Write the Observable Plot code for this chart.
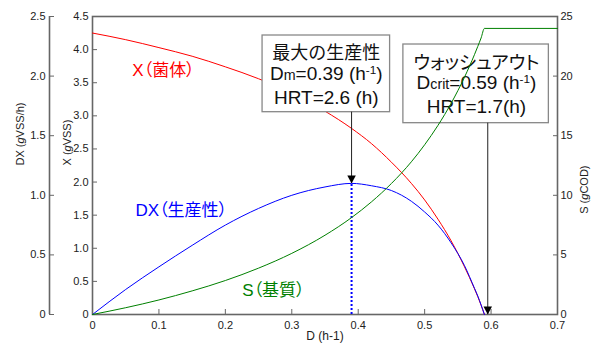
<!DOCTYPE html>
<html><head><meta charset="utf-8">
<script src="https://cdn.jsdelivr.net/npm/d3@7"></script>
<script src="https://cdn.jsdelivr.net/npm/@observablehq/plot@0.6"></script>
<style>body{margin:0;background:#fff} svg{display:block} .palt{font-feature-settings:"palt"}</style>
</head><body><div id="chart"></div>
<script>
// Dilution rate D (h-1) and read values
const D  = [0, 0.05, 0.1, 0.15, 0.2, 0.25, 0.3, 0.35, 0.39, 0.42, 0.45, 0.48, 0.5, 0.52, 0.54, 0.56, 0.575, 0.58, 0.585, 0.59, 0.7];
const X  = [4.25, 4.15, 4.03, 3.90, 3.74, 3.56, 3.34, 3.07, 2.81, 2.58, 2.30, 1.98, 1.73, 1.44, 1.11, 0.72, 0.39, 0.27, 0.14, 0, null];
const DX = [0, 0.21, 0.40, 0.58, 0.75, 0.89, 1.00, 1.07, 1.10, 1.08, 1.04, 0.95, 0.86, 0.75, 0.60, 0.41, 0.22, 0.155, 0.08, 0, null];
const S  = [0, 0.57, 1.22, 1.98, 2.85, 3.89, 5.13, 6.65, 8.13, 9.45, 10.99, 12.81, 14.24, 15.86, 17.73, 19.91, 21.80, 22.49, 23.2, 24, 24];

const xTicks  = [0, 0.1, 0.2, 0.3, 0.4, 0.5, 0.6, 0.7];
const XTicks  = [0, 0.5, 1, 1.5, 2, 2.5, 3, 3.5, 4, 4.5];
const DXTicks = [0, 0.5, 1, 1.5, 2, 2.5];
const STicks  = [0, 5, 10, 15, 20, 25];

const Dm = 0.39, Dcrit = 0.59;
const box1Lines = ["最大の生産性", "D{m}=0.39 (h^{-1})", "HRT=2.6 (h)"];
const box2Lines = ["ウォッシュアウト", "D{crit}=0.59 (h^{-1})", "HRT=1.7(h)"];

const XMAX = 4.5, DXMAX = 2.5, SMAX = 25;
const kDX = XMAX / DXMAX, kS = XMAX / SMAX;

const rows = D.map((d, i) => ({D: d, X: X[i], DXy: DX[i] == null ? null : DX[i] * kDX, Sy: S[i] * kS}));
const peakDX = d3.max(DX);

// annotation geometry (in D and X units)
const box1 = {x1: 0.256, x2: 0.448, y1: 3.055, y2: 4.213, cx: 0.352, ys: [3.94, 3.64, 3.27]};
const box2 = {x1: 0.468, x2: 0.687, y1: 2.889, y2: 4.077, cx: 0.578, ys: [3.80, 3.50, 3.14]};
const arrows = [{D: Dm, base: box1.y1, tip: peakDX * kDX}, {D: 0.595, base: box2.y1, tip: 0}];

const fmt = v => v === 0 ? "0" : d3.format(".1f")(v);
const FONT = "'Liberation Sans', Arial, 'Noto Sans CJK JP', sans-serif";
const AX = "#666";

const downTri = {draw(ctx, size) { const r = Math.sqrt(size / Math.PI); const w = r * 0.85, h = r * 1.6; ctx.moveTo(0, 0); ctx.lineTo(-w, -h); ctx.lineTo(w, -h); ctx.closePath(); }};

const lineText = (box, lines, sizes) => lines.map((t, i) => Plot.text([t], {x: () => box.cx, y: () => box.ys[i], text: d => d, fontSize: sizes[i], fill: "#111", fontFamily: FONT}));

const plot = Plot.plot({
  width: 597, height: 345,
  marginLeft: 92, marginRight: 40, marginTop: 16, marginBottom: 31,
  x: {domain: [0, 0.7]},
  y: {domain: [0, XMAX]},
  style: {fontFamily: FONT, fontSize: "11px", color: "#222", background: "#fff"},
  marks: [
    Plot.frame({stroke: AX, strokeWidth: 1.6}),
    Plot.ruleX([0], {dx: -43, stroke: AX, strokeWidth: 1.6}),
    Plot.axisX(xTicks, {anchor: "bottom", tickSize: -5, tickPadding: 12, tickFormat: fmt, stroke: AX, fill: "#222", label: null}),
    Plot.axisY(XTicks, {anchor: "left", tickSize: -5, tickPadding: 9, tickFormat: fmt, stroke: AX, fill: "#222", label: null}),
    Plot.axisY(DXTicks.map(v => v * kDX), {anchor: "left", dx: -43, tickSize: -5, tickPadding: 9, tickFormat: v => fmt(Math.round(v / kDX * 10) / 10), stroke: AX, fill: "#222", label: null}),
    Plot.axisY(STicks.map(v => v * kS), {anchor: "right", tickSize: -5, tickPadding: 8, tickFormat: v => String(Math.round(v / kS)), stroke: AX, fill: "#222", label: null}),
    // box 2 (under the curves)
    Plot.rect([box2], {x1: "x1", x2: "x2", y1: "y1", y2: "y2", fill: "white", stroke: "#888", strokeWidth: 1.3}),
    ...lineText(box2, box2Lines, [18.5, 19, 19]),
    // dotted line at Dm
    Plot.ruleX([Dm], {y1: 0, y2: peakDX * kDX, stroke: "#0000ff", strokeWidth: 2, strokeDasharray: "2,2"}),
    Plot.line(rows, {x: "D", y: "X", stroke: "#ff0000", strokeWidth: 1, curve: "monotone-x"}),
    Plot.line(rows, {x: "D", y: "DXy", stroke: "#0000ff", strokeWidth: 1, curve: "monotone-x"}),
    Plot.line(rows, {x: "D", y: "Sy", stroke: "#008000", strokeWidth: 1, curve: "monotone-x"}),
    // box 1 (over the red curve)
    Plot.rect([box1], {x1: "x1", x2: "x2", y1: "y1", y2: "y2", fill: "white", stroke: "#888", strokeWidth: 1.3}),
    ...lineText(box1, box1Lines, [18, 19, 19]),
    // arrows
    Plot.ruleX(arrows, {x: "D", y1: "tip", y2: "base", stroke: "#222", strokeWidth: 1}),
    Plot.dot(arrows, {x: "D", y: "tip", symbol: downTri, r: 5, fill: "#000", stroke: null}),
    // series labels
    Plot.text(["X（菌体）"], {x: () => 0.06, y: () => 3.685, text: d => d, textAnchor: "start", fontSize: 17, fill: "#ff0000"}),
    Plot.text(["DX（生産性）"], {x: () => 0.0647, y: () => 1.57, text: d => d, textAnchor: "start", fontSize: 17, fill: "#0000ff"}),
    Plot.text(["S（基質）"], {x: () => 0.2254, y: () => 0.362, text: d => d, textAnchor: "start", fontSize: 17, fill: "#008000"}),
    // axis titles
    Plot.text(["DX ([g]VSS/h)"], {frameAnchor: "left", dx: -72, rotate: -90, text: d => d, fontSize: 11, fill: "#222"}),
    Plot.text(["X ([g]VSS)"], {frameAnchor: "left", dx: -25, rotate: -90, text: d => d, fontSize: 11, fill: "#222"}),
    Plot.text(["S ([g]COD)"], {frameAnchor: "right", dx: 27, rotate: -90, text: d => d, fontSize: 11, fill: "#222"}),
    Plot.text(["D (h-1)"], {frameAnchor: "bottom", dy: 25, text: d => d, fontSize: 12, fill: "#222"})
  ]
});

document.getElementById("chart").appendChild(plot);

// rich text: {small}, ^{superscript}, [italic]; proportional kana/parentheses
const NS = "http://www.w3.org/2000/svg";
const paltTexts = new Set(["ウォッシュアウト", "X（菌体）", "DX（生産性）", "S（基質）"]);
plot.querySelectorAll("text").forEach(t => {
  const s = t.textContent;
  if (paltTexts.has(s)) t.setAttribute("class", (t.getAttribute("class") || "") + " palt");
  if (!/[\{\[\^]/.test(s)) return;
  t.textContent = "";
  const re = /\^\{([^}]*)\}|\{([^}]*)\}|\[([^\]]*)\]|([^\^\{\[]+)/g;
  let m;
  while ((m = re.exec(s))) {
    const ts = document.createElementNS(NS, "tspan");
    if (m[1] != null) { ts.textContent = m[1]; ts.setAttribute("font-size", "62%"); ts.setAttribute("baseline-shift", "super"); }
    else if (m[2] != null) { ts.textContent = m[2]; ts.setAttribute("font-size", "75%"); }
    else if (m[3] != null) { ts.textContent = m[3]; ts.setAttribute("font-style", "italic"); }
    else ts.textContent = m[4];
    t.appendChild(ts);
  }
});
</script>
</body></html>
